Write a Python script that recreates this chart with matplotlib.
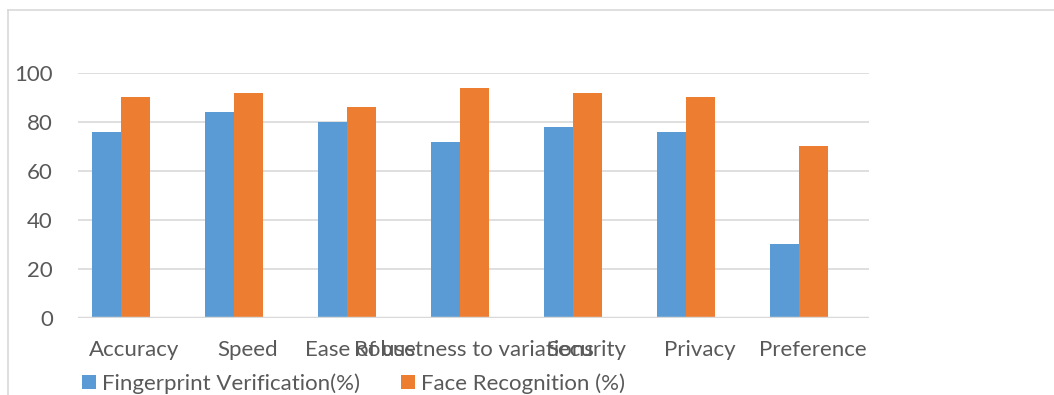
import numpy as np
import matplotlib
matplotlib.use("Agg")
import matplotlib.pyplot as plt
from matplotlib.lines import Line2D

categories = ["Accuracy", "Speed", "Ease of use", "Robustness to variations",
              "Security", "Privacy", "Preference"]
fingerprint = [76, 84, 80, 72, 78, 76, 30]
face = [90, 92, 86, 94, 92, 90, 70]
yticks = [0, 20, 40, 60, 80, 100]

plt.rcParams['font.family'] = ['Lato', 'DejaVu Sans']
txt = "#595959"
grid = "#d9d9d9"

fig = plt.figure(figsize=(10.54, 3.95), dpi=100)
ax = fig.add_axes([0.074, 0.195, 0.7505, 0.6203])

x = np.arange(len(categories))
w = 0.26
shift = -0.12  # bars sit a little left of the category centre in the original
ax.bar(x + shift - w/2, fingerprint, w, color="#5B9BD5", label="Fingerprint Verification(%)", zorder=3)
ax.bar(x + shift + w/2, face, w, color="#ED7D31", label="Face Recognition (%)", zorder=3)

ax.set_xlim(-0.5, len(categories) - 0.5)
ax.set_ylim(0, 100)
ax.set_yticks(yticks)
ax.set_xticks(x)
ax.set_xticklabels(categories)
ax.yaxis.grid(True, color=grid, lw=1.2, zorder=0)
ax.axhline(0, color=grid, lw=2.5, zorder=4)
for s in ax.spines.values():
    s.set_visible(False)
ax.tick_params(axis="both", length=0, labelsize=16, colors=txt)
ax.tick_params(axis="y", pad=18)
ax.tick_params(axis="x", pad=16)

leg = ax.legend(loc="center left", bbox_to_anchor=(0.078, 0.028), bbox_transform=fig.transFigure,
                ncol=2, frameon=False, fontsize=16, handlelength=0.6, handleheight=0.6,
                handletextpad=0.3, columnspacing=1.85, borderaxespad=0, borderpad=0)
for t in leg.get_texts():
    t.set_color(txt)

# outer chart border (left and top visible in the crop)
fig.add_artist(Line2D([8/1054, 8/1054], [0, 1 - 10/395], transform=fig.transFigure, color=grid, lw=1.2))
fig.add_artist(Line2D([8/1054, 1], [1 - 10/395, 1 - 10/395], transform=fig.transFigure, color=grid, lw=1.2))

fig.savefig("out.png", dpi=100)
